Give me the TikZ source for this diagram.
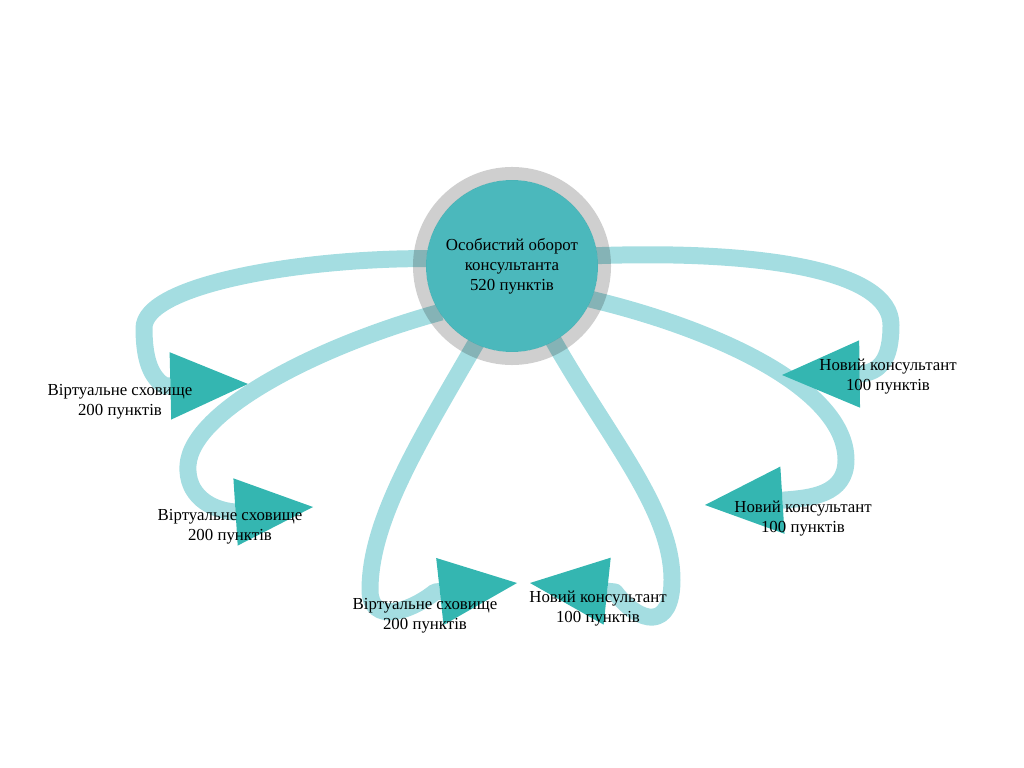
\documentclass[tikz,border=0pt]{standalone}
\usepackage{fontspec}
\setmainfont{Liberation Serif}
\usetikzlibrary{arrows.meta,backgrounds}
\definecolor{ringgray}{RGB}{207,207,207}
\definecolor{hubteal}{RGB}{75,184,188}
\definecolor{bandteal}{RGB}{164,221,225}
\definecolor{tipteal}{RGB}{52,182,177}
\begin{document}
\begin{tikzpicture}[x=0.024cm, y=-0.024cm,
    hub/.style={circle, fill=hubteal, minimum size=4.128cm, outer sep=-1pt,
        align=center, font=\fontsize{11.5}{13.6}\selectfont},
    ring/.style={draw=ringgray, line width=8.9pt, blend mode=multiply},
    lbl/.style={align=center, font=\fontsize{11.5}{13.6}\selectfont},
    band/.style={draw=bandteal, line width=11.6pt, line join=round,
        -{Triangle[length=53pt, width=46pt, line width=0pt, color=tipteal]}}]
    % Marco de 1024 x 768
    \useasboundingbox (0,0) rectangle (1024,768);
    % Circulo central
    \node[hub] (hub) at (512,266) {Особистий оборот\\консультанта\\520 пунктів};
    \begin{scope}[blend mode=multiply]
    \draw[ring] (hub.center) circle (92.5);
    \end{scope}
    % Etiquetas
    \node[lbl] (vs1) at (120,402) {Віртуальне сховище\\200 пунктів};
    \node[lbl] (vs2) at (230,527) {Віртуальне сховище\\200 пунктів};
    \node[lbl] (vs3) at (425,616) {Віртуальне сховище\\200 пунктів};
    \node[lbl] (nk1) at (598,609) {Новий консультант\\100 пунктів};
    \node[lbl] (nk2) at (803,519) {Новий консультант\\100 пунктів};
    \node[lbl] (nk3) at (888,377) {Новий консультант\\100 пунктів};
    % Flechas por detras
    \begin{pgfonlayer}{background}
    \draw[band] (hub.175) .. controls (300,258) and (144,285) .. (144,328)
        .. controls (144,362) and (152,378) .. (165,386) -- (248,384);
    \draw[band] (hub.213) .. controls (320,345) and (192,410) .. (188,465)
        .. controls (186,495) and (210,510) .. (235,512) -- (313,507);
    \draw[band] (hub.245) .. controls (420,440) and (370,520) .. (370,590)
        .. controls (370,625) and (410,612) .. (435,592) -- (517,583);
    \draw[band] (hub.299) .. controls (610,440) and (672,510) .. (672,580)
        .. controls (672,630) and (640,625) .. (615,592) -- (530,583);
    \draw[band] (hub.337) .. controls (720,330) and (846,390) .. (846,460)
        .. controls (846,495) and (810,498) .. (785,500) -- (705,505);
    \draw[band] (hub.7) .. controls (760,250) and (891,270) .. (891,325)
        .. controls (891,360) and (880,372) .. (860,374) -- (782,375);
    \end{pgfonlayer}
\end{tikzpicture}
\end{document}
